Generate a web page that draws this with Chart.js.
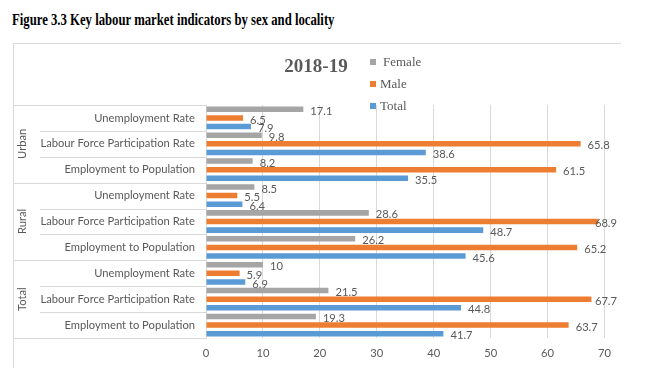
<!DOCTYPE html>
<html>
<head>
<meta charset="utf-8">
<script src="https://cdn.jsdelivr.net/npm/chart.js@4.4.1/dist/chart.umd.min.js"></script>
<style>
    body { margin: 0; background: #fff; width: 654px; height: 388px; position: relative; overflow: hidden; }
    .titulo { position: absolute; left: 12px; top: 12px; font: bold 16px "Liberation Serif", serif; line-height: 16px; color: #000; white-space: nowrap; transform: scaleX(0.795); transform-origin: 0 0; }
    .moldura { position: absolute; left: 13px; top: 43px; width: 607px; height: 324px; border-top: 1px solid #d9d9d9; border-left: 1px solid #d9d9d9; }
    .grafico { position: absolute; left: 13px; top: 43px; width: 607px; height: 345px; }
    .ano { position: absolute; left: 266px; top: 56px; width: 100px; text-align: center; font: bold 19px "Liberation Serif", serif; line-height: 19px; color: #595959; }
    .leg-txt { position: absolute; font: 13px "Liberation Serif", serif; line-height: 13px; color: #595959; }
    .leg-box { position: absolute; width: 6px; height: 6px; }
</style>
</head>
<body>

<div class="titulo">Figure 3.3 Key labour market indicators by sex and locality</div>
<div class="moldura"></div>
<div class="grafico"><canvas id="grafico"></canvas></div>
<div class="ano">2018-19</div>
<div id="legenda"></div>

<script>
// =========================
// DADOS
// =========================

const grupos = ['Urban', 'Rural', 'Total'];

const indicadores = [
    'Unemployment Rate',
    'Labour Force Participation Rate',
    'Employment to Population'
];

const female = [17.1, 9.8, 8.2, 8.5, 28.6, 26.2, 10, 21.5, 19.3];
const male = [6.5, 65.8, 61.5, 5.5, 68.9, 65.2, 5.9, 67.7, 63.7];
const total = [7.9, 38.6, 35.5, 6.4, 48.7, 45.6, 6.9, 44.8, 41.7];

const series = ['Female', 'Male', 'Total'];
const cores = ['#a5a5a5', '#ed7d31', '#5b9bd5'];

const labels = [];
grupos.forEach(() => indicadores.forEach(ind => labels.push(ind)));

const tamFonte = 11.2;
const fonte = tamFonte + 'px Lato, "Open Sans", sans-serif';
const corTexto = '#595959';

// =========================
// LEGENDA
// =========================

const legenda = document.getElementById('legenda');
series.forEach((nome, i) => {
    const topo = 55 + i * 22;
    legenda.innerHTML += `
        <div class="leg-box" style="left:370px;top:${topo + 4}px;background:${cores[i]}"></div>
        <div class="leg-txt" style="left:${i === 0 ? 383 : 380}px;top:${topo}px">${nome}</div>
    `;
});

// =========================
// PLUGINS
// =========================

// linhas da tabela de categorias + nomes dos grupos
const tabelaPlugin = {
    id: 'tabela',
    afterDraw(chart) {
        const ctx = chart.ctx;
        const y = chart.scales.y;
        const area = chart.chartArea;

        ctx.save();
        ctx.strokeStyle = '#d9d9d9';
        ctx.lineWidth = 1;

        for (let i = 0; i <= labels.length; i++) {
            const py = Math.round(y.getPixelForValue(i - 0.5)) + 0.5;
            const x0 = i % indicadores.length === 0 ? 0 : 27;
            ctx.beginPath();
            ctx.moveTo(x0, py);
            ctx.lineTo(area.left, py);
            ctx.stroke();
        }

        ctx.fillStyle = corTexto;
        ctx.font = fonte;
        ctx.textAlign = 'center';
        ctx.textBaseline = 'middle';

        grupos.forEach((g, gi) => {
            const a = y.getPixelForValue(gi * indicadores.length);
            const b = y.getPixelForValue(gi * indicadores.length + indicadores.length - 1);
            ctx.save();
            ctx.translate(9, (a + b) / 2);
            ctx.rotate(-Math.PI / 2);
            ctx.fillText(g, 0, 0);
            ctx.restore();
        });

        ctx.restore();
    }
};

// rótulos de valor no fim das barras (empurrados para dentro se passarem da borda)
const rotulosPlugin = {
    id: 'rotulos',
    afterDatasetsDraw(chart) {
        const ctx = chart.ctx;
        ctx.save();
        ctx.fillStyle = corTexto;
        ctx.font = fonte;
        ctx.textAlign = 'left';
        ctx.textBaseline = 'middle';

        chart.data.datasets.forEach((ds, i) => {
            chart.getDatasetMeta(i).data.forEach((bar, j) => {
                const txt = String(ds.data[j]);
                const w = ctx.measureText(txt).width;
                const x = Math.min(bar.x + 7, chart.width - 3 - w);
                ctx.fillText(txt, x, bar.y + 2);
            });
        });

        ctx.restore();
    }
};

// =========================
// GRÁFICO
// =========================

const dadosSeries = [female, male, total];

new Chart(document.getElementById('grafico'), {
    type: 'bar',
    data: {
        labels: labels,
        datasets: series.map((nome, i) => ({
            label: nome,
            data: dadosSeries[i],
            backgroundColor: cores[i],
            categoryPercentage: 1,
            barPercentage: 0.64
        }))
    },
    options: {
        indexAxis: 'y',
        responsive: true,
        maintainAspectRatio: false,
        animation: false,
        layout: { padding: { left: 0, top: 62, right: 12, bottom: 0 } },
        plugins: {
            legend: { display: false },
            title: { display: false },
            tooltip: { enabled: false }
        },
        scales: {
            x: {
                min: 0,
                max: 70,
                ticks: { stepSize: 10, color: corTexto, font: { family: 'Lato', size: tamFonte }, padding: 9 },
                grid: { color: '#d9d9d9', drawTicks: false },
                border: { display: false },
                afterFit(scale) { scale.height = 50; }
            },
            y: {
                ticks: { color: corTexto, font: { family: 'Lato', size: tamFonte }, padding: 11, autoSkip: false },
                grid: { display: false, drawTicks: false },
                border: { color: '#d9d9d9' },
                afterFit(scale) { scale.width = 193; }
            }
        }
    },
    plugins: [tabelaPlugin, rotulosPlugin]
});
</script>
</body>
</html>
